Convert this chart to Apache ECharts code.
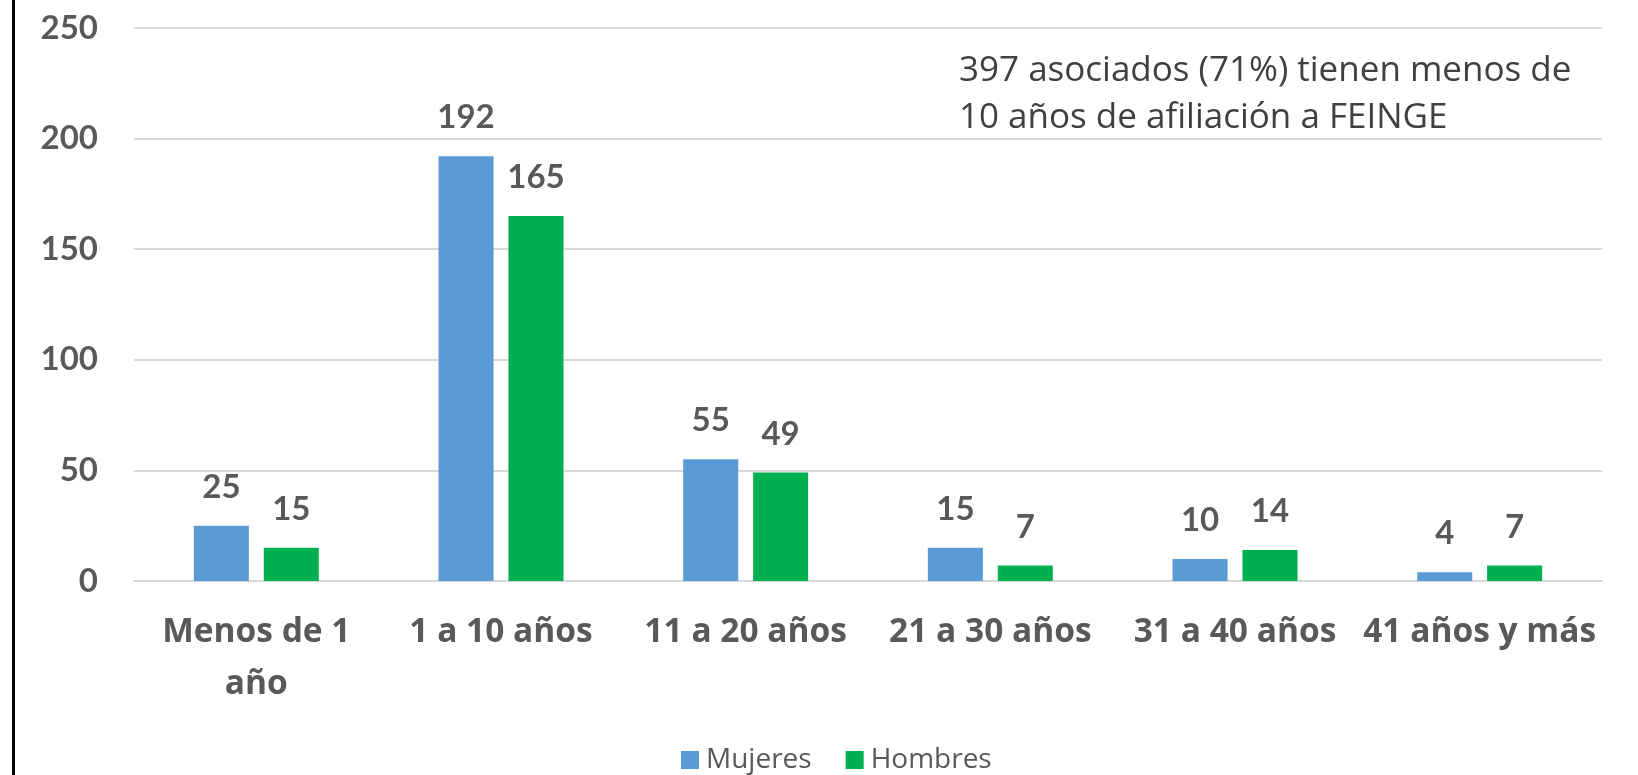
<!DOCTYPE html>
<html>
<head>
<meta charset="utf-8">
<style>
  html, body { margin: 0; padding: 0; background: #fff; }
  #chart { width: 1638px; height: 775px; }
</style>
<script src="https://cdn.jsdelivr.net/npm/echarts@6/dist/echarts.min.js"></script>
</head>
<body>
<div id="chart"></div>
<script>
// Years of membership, split by gender
const categories = ['Menos de 1\naño', '1 a 10 años', '11 a 20 años', '21 a 30 años', '31 a 40 años', '41 años y más'];
const mujeres = [25, 192, 55, 15, 10, 4];
const hombres = [15, 165, 49, 7, 14, 7];
const seriesNames = ['Mujeres', 'Hombres'];
const yTicks = { min: 0, max: 250, interval: 50 };
const note = '397 asociados (71%) tienen menos de\n10 años de afiliación a FEINGE';

const FONT = 'Lato, "Open Sans", sans-serif';
const WIDE = '"Open Sans", Lato, sans-serif';
const TEXT = '#595959';

const chart = echarts.init(document.getElementById('chart'), null, { renderer: 'canvas' });

const labelStyle = {
  show: true,
  position: 'top',
  distance: 22,
  color: TEXT,
  fontFamily: FONT,
  fontWeight: 'bold',
  fontSize: 33
};

chart.setOption({
  animation: false,
  backgroundColor: '#ffffff',
  grid: { left: 134, right: 36, top: 28, bottom: 194 },
  legend: {
    data: seriesNames,
    top: 741,
    left: 676,
    itemWidth: 18,
    itemHeight: 18,
    itemGap: 34,
    icon: 'rect',
    textStyle: { color: TEXT, fontFamily: WIDE, fontSize: 28, padding: [0, 0, 0, 2] }
  },
  xAxis: {
    type: 'category',
    data: categories,
    axisLine: { show: true, lineStyle: { color: '#D9D9D9', width: 2 } },
    axisTick: { show: false },
    axisLabel: {
      color: TEXT,
      fontFamily: WIDE,
      fontWeight: 'bold',
      fontSize: 33.5,
      lineHeight: 52,
      margin: 25,
      interval: 0
    }
  },
  yAxis: {
    type: 'value',
    min: yTicks.min,
    max: yTicks.max,
    interval: yTicks.interval,
    axisLine: { show: false },
    axisTick: { show: false },
    splitLine: { lineStyle: { color: '#D9D9D9', width: 2 } },
    axisLabel: {
      color: TEXT,
      fontFamily: FONT,
      fontWeight: 'bold',
      fontSize: 33,
      margin: 36
    }
  },
  series: [
    {
      name: seriesNames[0],
      type: 'bar',
      data: mujeres,
      barWidth: '22.5%',
      barGap: '27%',
      itemStyle: { color: '#5B9BD5' },
      label: labelStyle
    },
    {
      name: seriesNames[1],
      type: 'bar',
      data: hombres,
      barWidth: '22.5%',
      barGap: '27%',
      itemStyle: { color: '#00B050' },
      label: labelStyle
    }
  ],
  graphic: [
    {
      type: 'rect',
      left: 12,
      top: 0,
      shape: { width: 3, height: 775 },
      style: { fill: '#000000' }
    },
    {
      type: 'text',
      left: 959,
      top: 48,
      style: {
        text: note,
        fill: '#404040',
        font: '35px ' + WIDE,
        lineHeight: 47
      }
    }
  ]
});
</script>
</body>
</html>
